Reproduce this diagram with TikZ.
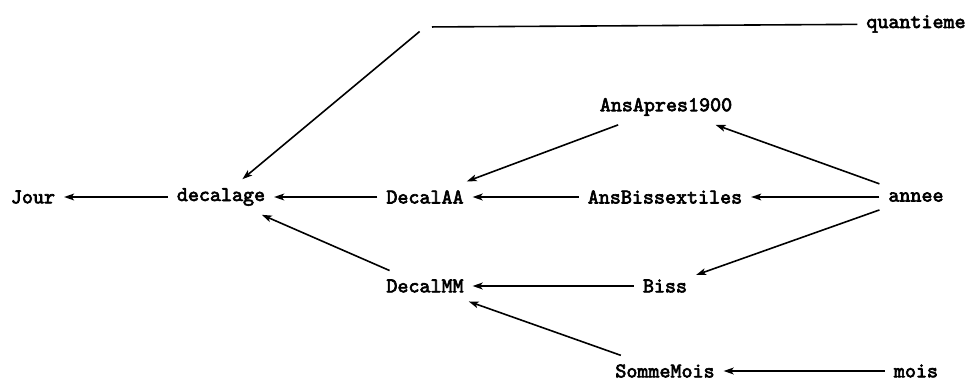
\documentclass[tikz,border=0pt]{standalone}
\usepackage{fontspec}
\usetikzlibrary{arrows.meta}
\newfontfamily\varfont[FakeBold=3]{Latin Modern Mono}
\begin{document}
\begin{tikzpicture}[x=0.5pt,y=-0.5pt,
  var/.style={font=\varfont\fontsize{10.5}{12}\selectfont, inner sep=4.5pt, outer sep=0pt},
  hidden/.style={circle, inner sep=0pt, minimum size=7pt, outer sep=0pt},
  flow/.style={-{Stealth[length=5pt,width=3.4pt,inset=1.2pt]}, line width=0.8pt},
  link/.style={line width=0.8pt}]
\useasboundingbox (0,0) rectangle (966,380);
% variables
\node[var] (jour) at (33,197) {Jour};
\node[var] (dec) at (221,197) {decalage};
\node[var] (daa) at (425,197) {DecalAA};
\node[var] (abis) at (665,197) {AnsBissextiles};
\node[var] (annee) at (916,197) {annee};
\node[var] (aap) at (666,107) {AnsApres1900};
\node[var] (dmm) at (425,286) {DecalMM};
\node[var] (biss) at (665,286) {Biss};
\node[var] (smois) at (665,371) {SommeMois};
\node[var] (mois) at (916,371) {mois};
\node[var] (quant) at (916,24) {quantieme};
\node[hidden] (h) at (425,27) {};
% dependencies
\draw[link] (h) -- (quant);
\draw[flow] (h) -- (dec);
\draw[flow] (dec) -- (jour);
\draw[flow] (daa) -- (dec);
\draw[flow] (dmm) -- (dec);
\draw[flow] (aap) -- (daa);
\draw[flow] (abis) -- (daa);
\draw[flow] (annee) -- (aap);
\draw[flow] (annee) -- (abis);
\draw[flow] (annee) -- (biss);
\draw[flow] (biss) -- (dmm);
\draw[flow] (smois) -- (dmm);
\draw[flow] (mois) -- (smois);
\end{tikzpicture}
\end{document}
